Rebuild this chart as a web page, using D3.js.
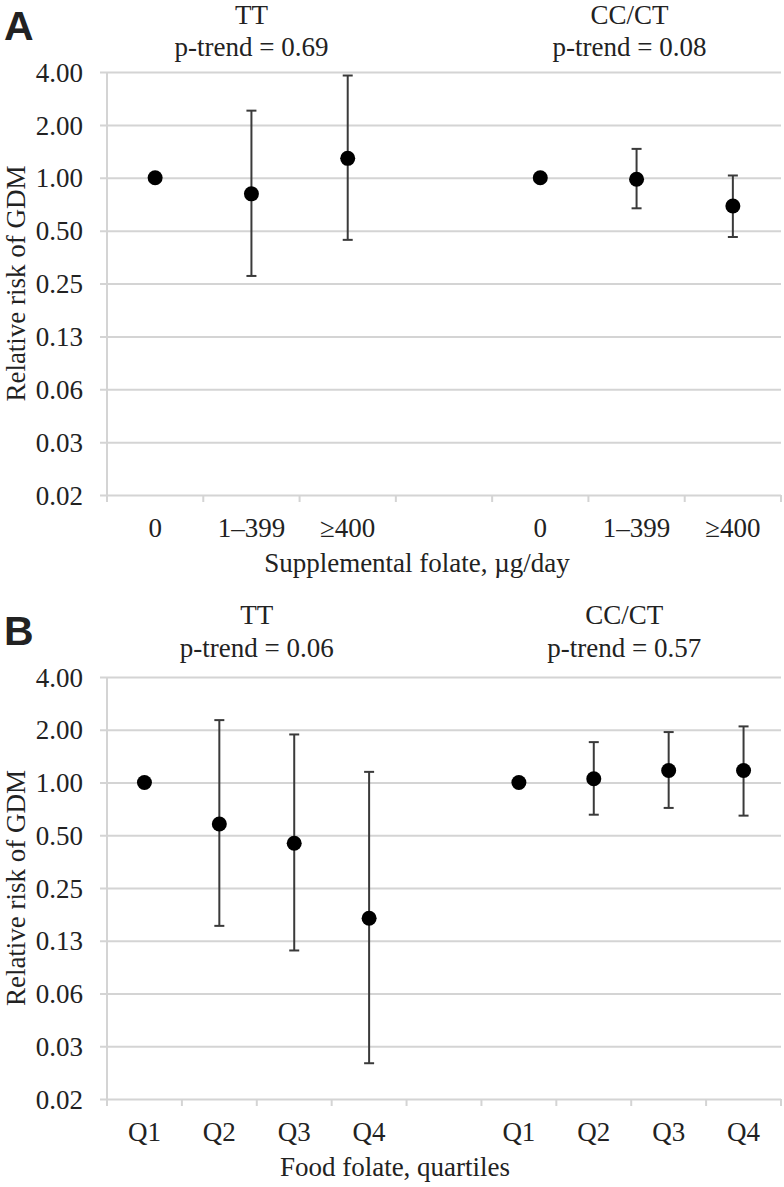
<!DOCTYPE html>
<html>
<head>
<meta charset="utf-8">
<script src="https://cdn.jsdelivr.net/npm/d3@7"></script>
<style>
  html, body { margin: 0; padding: 0; background: #fff; }
  svg { display: block; }
  text { font-family: "Liberation Serif", "Times New Roman", serif; fill: #222; }
</style>
</head>
<body>
<svg id="chart" width="784" height="1187"></svg>
<script>
// ---------- data ----------
const yTickValues = [4, 2, 1, 0.5, 0.25, 0.125, 0.0625, 0.03125, 0.015625];
const yTickLabels = ["4.00", "2.00", "1.00", "0.50", "0.25", "0.13", "0.06", "0.03", "0.02"];

const groups = ["TT", "CC/CT"];

// Panel A: supplemental folate
const catsA = ["0", "1–399", "≥400"];
const pTrendA = ["p-trend = 0.69", "p-trend = 0.08"];
const rrA_TT = [1.00, 0.81, 1.29];
const loA_TT = [null, 0.276, 0.443];
const hiA_TT = [null, 2.41, 3.82];
const rrA_CC = [1.00, 0.98, 0.69];
const loA_CC = [null, 0.67, 0.46];
const hiA_CC = [null, 1.46, 1.03];

// Panel B: food folate quartiles
const catsB = ["Q1", "Q2", "Q3", "Q4"];
const pTrendB = ["p-trend = 0.06", "p-trend = 0.57"];
const rrB_TT = [1.00, 0.58, 0.45, 0.168];
const loB_TT = [null, 0.152, 0.110, 0.025];
const hiB_TT = [null, 2.27, 1.88, 1.15];
const rrB_CC = [1.00, 1.05, 1.17, 1.17];
const loB_CC = [null, 0.655, 0.716, 0.647];
const hiB_CC = [null, 1.70, 1.94, 2.09];

// ---------- drawing ----------
const svg = d3.select("#chart");
const FS = 27;
const FONT = '"Liberation Serif", "Times New Roman", serif';
const gridColor = "#d4d4d4";
const barColor = "#3a3a3a";

function drawPanel(opt) {
  const { letter, top, bottom, cats, gaps, series, pTrend, xTitle, xTitleX, headY1, headY2 } = opt;
  const left = 107, right = 781;
  const g = svg.append("g");

  // band domain: group1 cats, gap slots, group2 cats
  const domain = [];
  cats.forEach(c => domain.push("TT|" + c));
  for (let i = 0; i < gaps; i++) domain.push("gap" + i);
  cats.forEach(c => domain.push("CC|" + c));

  const x = d3.scaleBand().domain(domain).range([left, right]).paddingInner(0).paddingOuter(0);
  const y = d3.scaleLog().base(2).domain([yTickValues[yTickValues.length - 1], yTickValues[0]]).range([bottom, top]);

  // gridlines via axis
  const yAxis = d3.axisLeft(y)
    .tickValues(yTickValues)
    .tickFormat((d, i) => yTickLabels[i])
    .tickSize(-(right - left))
    .tickPadding(0);
  const ya = g.append("g").attr("transform", `translate(${left},0)`).call(yAxis)
    .attr("font-family", null).attr("font-size", null);
  ya.select(".domain").remove();
  ya.selectAll(".tick line").attr("stroke", gridColor).attr("stroke-width", 2).attr("x1", -7);
  ya.selectAll(".tick text")
    .attr("x", -24)
    .attr("dy", "0.34em")
    .style("font-size", FS + "px")
    .style("font-family", FONT)
    .attr("fill", "#222");

  // vertical axis line
  g.append("line").attr("x1", left).attr("x2", left).attr("y1", top).attr("y2", bottom)
    .attr("stroke", gridColor).attr("stroke-width", 2);

  // bottom axis ticks at band boundaries
  const edges = domain.map(d => x(d)).concat([right]);
  g.selectAll("line.xt").data(edges).enter().append("line")
    .attr("class", "xt")
    .attr("x1", d => d).attr("x2", d => d)
    .attr("y1", bottom).attr("y2", bottom + 7)
    .attr("stroke", gridColor).attr("stroke-width", 2);

  // category labels
  const labelKeys = domain.filter(d => !d.startsWith("gap"));
  g.selectAll("text.xl").data(labelKeys).enter().append("text")
    .attr("class", "xl")
    .attr("x", d => x(d) + x.bandwidth() / 2)
    .attr("y", bottom + 42)
    .attr("text-anchor", "middle")
    .style("font-size", FS + "px")
    .text(d => d.split("|")[1]);

  // x title
  g.append("text").attr("x", xTitleX).attr("y", bottom + 77)
    .attr("text-anchor", "middle").style("font-size", FS + "px").text(xTitle);

  // y title
  g.append("text")
    .attr("transform", `translate(25,${(top + bottom) / 2}) rotate(-90)`)
    .attr("text-anchor", "middle").style("font-size", FS + "px")
    .text("Relative risk of GDM");

  // panel letter
  g.append("text").attr("x", 4).attr("y", top - 32)
    .style("font-family", '"Liberation Sans", Arial, sans-serif')
    .style("font-weight", "bold").style("font-size", "41px").attr("fill", "#111")
    .text(letter);

  // group headers
  const prefixes = ["TT|", "CC|"];
  prefixes.forEach((p, gi) => {
    const first = x(p + cats[0]);
    const last = x(p + cats[cats.length - 1]) + x.bandwidth();
    const cx = (first + last) / 2 - (gi === 1 ? 7 : 0);
    g.append("text").attr("x", cx).attr("y", headY1).attr("text-anchor", "middle")
      .style("font-size", FS + "px").text(groups[gi]);
    g.append("text").attr("x", cx).attr("y", headY2).attr("text-anchor", "middle")
      .style("font-size", FS + "px").text(pTrend[gi]);
  });

  // series
  series.forEach((s, si) => {
    const p = prefixes[si];
    const rows = cats.map((c, i) => ({ key: p + c, rr: s.rr[i], lo: s.lo[i], hi: s.hi[i] }));
    const cxOf = d => x(d.key) + x.bandwidth() / 2;
    const withCI = rows.filter(d => d.lo != null);
    const eb = g.append("g");
    eb.selectAll("line.v").data(withCI).enter().append("line")
      .attr("x1", cxOf).attr("x2", cxOf)
      .attr("y1", d => y(d.lo)).attr("y2", d => y(d.hi))
      .attr("stroke", barColor).attr("stroke-width", 2);
    eb.selectAll("line.ch").data(withCI).enter().append("line")
      .attr("x1", d => cxOf(d) - 5).attr("x2", d => cxOf(d) + 5)
      .attr("y1", d => y(d.hi)).attr("y2", d => y(d.hi))
      .attr("stroke", barColor).attr("stroke-width", 2);
    eb.selectAll("line.cl").data(withCI).enter().append("line")
      .attr("x1", d => cxOf(d) - 5).attr("x2", d => cxOf(d) + 5)
      .attr("y1", d => y(d.lo)).attr("y2", d => y(d.lo))
      .attr("stroke", barColor).attr("stroke-width", 2);
    g.selectAll(null).data(rows).enter().append("circle")
      .attr("cx", cxOf).attr("cy", d => y(d.rr)).attr("r", 7.5)
      .attr("fill", "#000");
  });
}

drawPanel({
  letter: "A", top: 72, bottom: 495, cats: catsA, gaps: 1,
  series: [{ rr: rrA_TT, lo: loA_TT, hi: hiA_TT }, { rr: rrA_CC, lo: loA_CC, hi: hiA_CC }],
  pTrend: pTrendA, xTitle: "Supplemental folate, µg/day", xTitleX: 417,
  headY1: 24, headY2: 56
});
drawPanel({
  letter: "B", top: 677, bottom: 1099, cats: catsB, gaps: 1,
  series: [{ rr: rrB_TT, lo: loB_TT, hi: hiB_TT }, { rr: rrB_CC, lo: loB_CC, hi: hiB_CC }],
  pTrend: pTrendB, xTitle: "Food folate, quartiles", xTitleX: 395,
  headY1: 624, headY2: 657
});
</script>
</body>
</html>
